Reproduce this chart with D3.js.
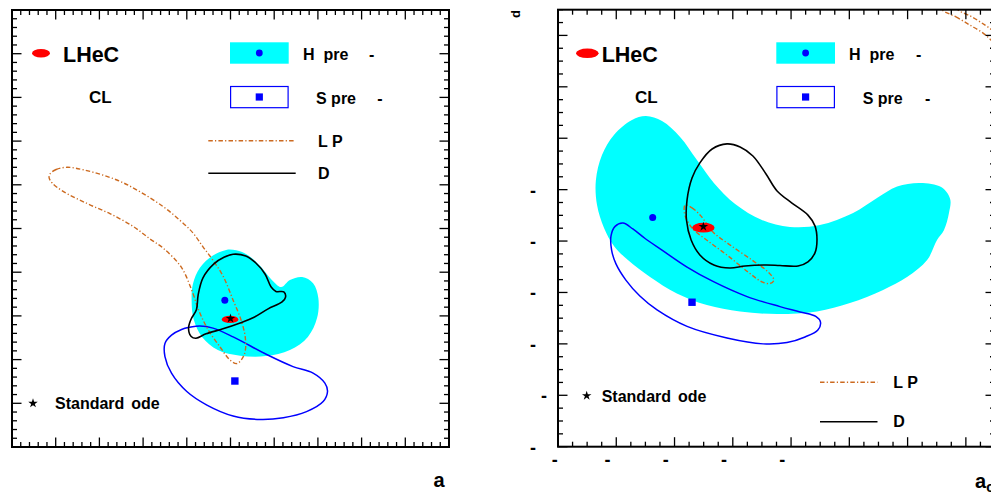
<!DOCTYPE html>
<html><head><meta charset="utf-8">
<script src="https://cdn.jsdelivr.net/npm/d3@7"></script>
<style>
body{margin:0;background:#fff}
text{font-family:"Liberation Sans",Arial,Helvetica,sans-serif;font-weight:bold;fill:#000}
</style>
</head><body>
<svg id="c" width="991" height="495"></svg>
<script>
// ---------------- DATA (axis units) ----------------
// Left panel
const leftHiggsRegion = [[0.490,0.451],[0.458,0.437],[0.430,0.410],[0.414,0.373],[0.411,0.336],[0.416,0.291],[0.435,0.252],[0.471,0.222],[0.522,0.209],[0.581,0.208],[0.636,0.222],[0.677,0.252],[0.698,0.295],[0.701,0.341],[0.689,0.375],[0.664,0.389],[0.636,0.382],[0.616,0.366],[0.593,0.384],[0.568,0.414],[0.540,0.439],[0.513,0.450]];
const leftSContour = [[0.407,0.274],[0.430,0.277],[0.460,0.272],[0.506,0.252],[0.584,0.211],[0.643,0.184],[0.689,0.169],[0.716,0.146],[0.722,0.127],[0.712,0.104],[0.674,0.081],[0.621,0.067],[0.568,0.063],[0.506,0.071],[0.446,0.096],[0.400,0.127],[0.365,0.169],[0.350,0.207],[0.350,0.237],[0.365,0.256],[0.388,0.269]];
const leftLPContour = [[0.087,0.625],[0.101,0.635],[0.126,0.640],[0.165,0.634],[0.240,0.611],[0.293,0.584],[0.346,0.550],[0.384,0.519],[0.414,0.490],[0.437,0.458],[0.458,0.430],[0.483,0.391],[0.506,0.336],[0.524,0.291],[0.534,0.249],[0.532,0.213],[0.515,0.191],[0.499,0.199],[0.476,0.229],[0.449,0.268],[0.428,0.311],[0.412,0.357],[0.387,0.412],[0.346,0.455],[0.316,0.476],[0.277,0.505],[0.224,0.534],[0.172,0.557],[0.117,0.585],[0.092,0.604],[0.085,0.616]];
const leftDContour = [[0.506,0.441],[0.535,0.437],[0.558,0.421],[0.579,0.396],[0.593,0.366],[0.604,0.356],[0.622,0.355],[0.626,0.343],[0.618,0.332],[0.586,0.316],[0.554,0.297],[0.522,0.284],[0.481,0.270],[0.444,0.259],[0.421,0.249],[0.410,0.253],[0.404,0.272],[0.410,0.293],[0.422,0.314],[0.426,0.348],[0.437,0.387],[0.462,0.419],[0.485,0.434]];
const leftLHeC = [0.499, 0.292, 0.019, 0.0085];   // centre x, centre y, half-width, half-height
const leftSM = [0.500, 0.294];
const leftHiggsBest = [0.487, 0.336];
const leftSBest = [0.510, 0.151];

// Right panel
const rightHiggsRegion = [[-0.698,0.086],[-0.746,0.071],[-0.808,0.013],[-0.849,-0.065],[-0.870,-0.163],[-0.866,-0.260],[-0.842,-0.349],[-0.808,-0.419],[-0.760,-0.474],[-0.684,-0.540],[-0.592,-0.604],[-0.489,-0.649],[-0.375,-0.674],[-0.248,-0.684],[-0.111,-0.674],[0.002,-0.641],[0.116,-0.590],[0.198,-0.540],[0.267,-0.474],[0.301,-0.396],[0.325,-0.357],[0.342,-0.291],[0.346,-0.236],[0.315,-0.190],[0.243,-0.174],[0.164,-0.188],[0.095,-0.233],[0.013,-0.291],[-0.101,-0.338],[-0.204,-0.345],[-0.300,-0.318],[-0.392,-0.256],[-0.465,-0.174],[-0.523,-0.085],[-0.581,0.005],[-0.643,0.067]];
const rightSContour = [[-0.777,-0.330],[-0.804,-0.343],[-0.818,-0.380],[-0.816,-0.435],[-0.801,-0.489],[-0.767,-0.552],[-0.719,-0.614],[-0.660,-0.668],[-0.557,-0.732],[-0.420,-0.777],[-0.296,-0.800],[-0.214,-0.795],[-0.152,-0.773],[-0.108,-0.746],[-0.099,-0.715],[-0.114,-0.694],[-0.169,-0.676],[-0.238,-0.655],[-0.351,-0.616],[-0.468,-0.557],[-0.557,-0.501],[-0.643,-0.435],[-0.701,-0.390],[-0.743,-0.353]];
const rightLPContour = [[-0.564,-0.260],[-0.540,-0.271],[-0.509,-0.303],[-0.468,-0.365],[-0.410,-0.415],[-0.334,-0.474],[-0.279,-0.520],[-0.259,-0.552],[-0.272,-0.565],[-0.300,-0.559],[-0.348,-0.520],[-0.416,-0.458],[-0.485,-0.400],[-0.537,-0.353],[-0.561,-0.310],[-0.567,-0.279]];
const rightLPOuter = [[0.318,0.499],[0.366,0.472],[0.414,0.440],[0.459,0.409],[0.486,0.382],[0.517,0.343],[0.560,0.300],[0.560,0.350],[0.534,0.382],[0.500,0.413],[0.466,0.440],[0.421,0.472],[0.373,0.499],[0.350,0.530],[0.300,0.530]];
const rightDContour = [[-0.420,-0.022],[-0.375,-0.034],[-0.331,-0.069],[-0.286,-0.139],[-0.248,-0.205],[-0.197,-0.252],[-0.142,-0.299],[-0.118,-0.341],[-0.111,-0.396],[-0.118,-0.446],[-0.142,-0.481],[-0.176,-0.497],[-0.238,-0.495],[-0.286,-0.493],[-0.358,-0.497],[-0.410,-0.505],[-0.465,-0.493],[-0.513,-0.454],[-0.543,-0.396],[-0.559,-0.318],[-0.557,-0.240],[-0.540,-0.155],[-0.513,-0.096],[-0.471,-0.042]];
const rightLHeC = [-0.501, -0.348, 0.0384, 0.019];
const rightSM = [-0.501, -0.344];
const rightHiggsBest = [-0.675, -0.308];
const rightSBest = [-0.540, -0.638];

// Right panel tick labels (only the minus signs remain visible)
const rightXLabelValues = [-1, -0.8, -0.6, -0.4, -0.2];
const rightYLabelValues = [-0.2, -0.4, -0.6, -0.8, -1, -1.2];

// Legend texts
const legendTexts = {lhec:"LHeC", cl:"CL", higgs:"H  pre", scenario:"S pre", dash:"-", lp:"L P", d:"D", sm:"Standard ode"};

// ---------------- DRAWING ----------------
const svg = d3.select("#c");
const ORANGE = "#cc6a20", CYAN = "#00ffff", BLUE = "#0000ff";
const LPDASH = "4.5,2.2,1.2,2.2";

const panels = [
  {id:"L", x0:12, y0:10, w:437, h:437, xd:[0,1], yd:[0,1], xMinor:0.02, xMajor:0.1, yMinor:0.02, yMajor:0.1,
   higgs:leftHiggsRegion, s:leftSContour, lp:[leftLPContour], d:leftDContour, lhec:leftLHeC, sm:leftSM, hb:leftHiggsBest, sb:leftSBest, labels:false},
  {id:"R", x0:558, y0:9.7, w:437, h:437, xd:[-1,0.5], yd:[-1.2,0.5], xMinor:0.05, xMajor:0.2, yMinor:0.05, yMajor:0.2,
   higgs:rightHiggsRegion, s:rightSContour, lp:[rightLPContour, rightLPOuter], d:rightDContour, lhec:rightLHeC, sm:rightSM, hb:rightHiggsBest, sb:rightSBest, labels:true}
];

function tickVals(d0, d1, step){
  const n = Math.round((d1-d0)/step);
  return d3.range(n+1).map(i => +(d0 + i*step).toFixed(6));
}
const isMajor = (v, m) => Math.abs(v/m - Math.round(v/m)) < 1e-6;
const starSym = d3.symbol().type(d3.symbolStar).size(28);

const meas = svg.append("text").attr("font-size", 13).attr("x", -100).attr("y", -100);
function textW(s){ meas.text(s); return meas.node().getComputedTextLength(); }

panels.forEach(p => {
  const x = d3.scaleLinear().domain(p.xd).range([p.x0, p.x0 + p.w]);
  const y = d3.scaleLinear().domain(p.yd).range([p.y0 + p.h, p.y0]);
  const clipId = "clip" + p.id;
  svg.append("clipPath").attr("id", clipId).append("rect")
    .attr("x", p.x0).attr("y", p.y0).attr("width", p.w).attr("height", p.h);
  const g = svg.append("g").attr("clip-path", `url(#${clipId})`);
  const line = d3.line().x(d => x(d[0])).y(d => y(d[1])).curve(d3.curveCatmullRomClosed.alpha(0.5));

  g.append("path").attr("d", line(p.higgs)).attr("fill", CYAN).attr("stroke", "none");
  g.append("path").attr("d", line(p.s)).attr("fill", "none").attr("stroke", BLUE).attr("stroke-width", 1.5);
  p.lp.forEach(c => g.append("path").attr("d", line(c)).attr("fill", "none").attr("stroke", ORANGE)
      .attr("stroke-width", 1.4).attr("stroke-dasharray", LPDASH));
  g.append("path").attr("d", line(p.d)).attr("fill", "none").attr("stroke", "#000").attr("stroke-width", 1.6);

  // markers
  g.append("circle").attr("cx", x(p.hb[0])).attr("cy", y(p.hb[1])).attr("r", 3.5).attr("fill", BLUE);
  g.append("rect").attr("x", x(p.sb[0]) - 3.7).attr("y", y(p.sb[1]) - 3.7).attr("width", 7.4).attr("height", 7.4).attr("fill", BLUE);
  g.append("ellipse").attr("cx", x(p.lhec[0])).attr("cy", y(p.lhec[1]))
    .attr("rx", x(p.lhec[0] + p.lhec[2]) - x(p.lhec[0]))
    .attr("ry", y(p.lhec[1]) - y(p.lhec[1] + p.lhec[3])).attr("fill", "#ff0000");
  g.append("path").attr("d", starSym()).attr("transform", `translate(${x(p.sm[0])},${y(p.sm[1])})`).attr("fill", "#000");

  // frame + ticks
  const ax = svg.append("g").attr("stroke", "#000").attr("fill", "none");
  const xt = tickVals(p.xd[0], p.xd[1], p.xMinor);
  const yt = tickVals(p.yd[0], p.yd[1], p.yMinor);
  const B = p.y0 + p.h, T = p.y0, Lx = p.x0, Rx = p.x0 + p.w;
  xt.forEach(v => {
    const len = isMajor(v, p.xMajor) ? 9.5 : 5;
    ax.append("line").attr("x1", x(v)).attr("x2", x(v)).attr("y1", B).attr("y2", B - len).attr("stroke-width", 1.3);
    ax.append("line").attr("x1", x(v)).attr("x2", x(v)).attr("y1", T).attr("y2", T + len).attr("stroke-width", 1.3);
  });
  yt.forEach(v => {
    const len = isMajor(v, p.yMajor) ? 9.5 : 5;
    ax.append("line").attr("y1", y(v)).attr("y2", y(v)).attr("x1", Lx).attr("x2", Lx + len).attr("stroke-width", 1.3);
    ax.append("line").attr("y1", y(v)).attr("y2", y(v)).attr("x1", Rx).attr("x2", Rx - len).attr("stroke-width", 1.3);
  });
  ax.append("rect").attr("x", Lx).attr("y", T).attr("width", p.w).attr("height", p.h).attr("stroke-width", 2);

  if (p.labels) {
    rightXLabelValues.forEach(v => {
      const w = textW(String(v));
      svg.append("text").attr("x", x(v) - w/2 - 0.5).attr("y", B + 19).attr("font-size", 18).text("-");
    });
    rightYLabelValues.forEach(v => {
      const w = textW(String(v));
      svg.append("text").attr("x", Lx - 5.5 - w).attr("y", y(v) + 7).attr("font-size", 18).text("-");
    });
  }
});
meas.remove();

// ---------------- LEGENDS ----------------
function legend(o){
  svg.append("ellipse").attr("cx", o.ex).attr("cy", 53.3).attr("rx", o.erx).attr("ry", o.ery).attr("fill", "#ff0000");
  svg.append("text").attr("x", o.lhecX).attr("y", 61.5).attr("font-size", 21.5).text(legendTexts.lhec);
  svg.append("text").attr("x", o.clX).attr("y", 103.3).attr("font-size", 17).text(legendTexts.cl);
  svg.append("rect").attr("x", o.boxX).attr("y", 42.3).attr("width", 58.7).attr("height", 21.4).attr("fill", CYAN);
  svg.append("circle").attr("cx", o.boxX + 29.3).attr("cy", 53).attr("r", 3.4).attr("fill", BLUE);
  svg.append("text").attr("x", o.hX).attr("y", 59.5).attr("font-size", 16).style("white-space", "pre").text(legendTexts.higgs);
  svg.append("text").attr("x", o.hDash).attr("y", 59.5).attr("font-size", 16).attr("text-anchor", "middle").text(legendTexts.dash);
  svg.append("rect").attr("x", o.boxX + 0.6).attr("y", 86.5).attr("width", 57.5).attr("height", 21.2).attr("fill", "none").attr("stroke", BLUE).attr("stroke-width", 1.2);
  svg.append("rect").attr("x", o.boxX + 29.3 - 3.6).attr("y", 97 - 3.6).attr("width", 7.2).attr("height", 7.2).attr("fill", BLUE);
  svg.append("text").attr("x", o.sX).attr("y", 103.5).attr("font-size", 16).text(legendTexts.scenario);
  svg.append("text").attr("x", o.sDash).attr("y", 103.5).attr("font-size", 16).attr("text-anchor", "middle").text(legendTexts.dash);
  svg.append("line").attr("x1", o.lineX1).attr("x2", o.lineX2).attr("y1", o.lpY).attr("y2", o.lpY)
    .attr("stroke", ORANGE).attr("stroke-width", 1.4).attr("stroke-dasharray", LPDASH);
  svg.append("text").attr("x", o.lpTX).attr("y", o.lpY + 6).attr("font-size", 16).text(legendTexts.lp);
  svg.append("line").attr("x1", o.lineX1).attr("x2", o.lineX2).attr("y1", o.dY).attr("y2", o.dY)
    .attr("stroke", "#000").attr("stroke-width", 1.6);
  svg.append("text").attr("x", o.lpTX).attr("y", o.dY + 5.7).attr("font-size", 16).text(legendTexts.d);
  svg.append("path").attr("d", starSym()).attr("transform", `translate(${o.starX},${o.smY})`).attr("fill", "#000");
  svg.append("text").attr("x", o.smX).attr("y", o.smY + 6).attr("font-size", 16).attr("word-spacing", 2.5).text(legendTexts.sm);
}
legend({ex:41, erx:9, ery:4.2, lhecX:63, clX:89, boxX:230, hX:303, hDash:371.7, sX:316, sDash:380,
        lineX1:208.3, lineX2:295.7, lpY:140.7, dY:173.3, lpTX:318, starX:33, smY:403.3, smX:55});
legend({ex:587.3, erx:11.3, ery:4.8, lhecX:601.7, clX:635, boxX:776.3, hX:849, hDash:918.7, sX:862.7, sDash:927.7,
        lineX1:820, lineX2:877.5, lpY:382.3, dY:421.7, lpTX:893.3, starX:586.7, smY:395.7, smX:601.7});

// axis titles
svg.append("text").attr("x", 439).attr("y", 487).attr("font-size", 20).attr("text-anchor", "middle").text("a");
const at = svg.append("text").attr("x", 975).attr("y", 488).attr("font-size", 20);
at.append("tspan").text("a");
at.append("tspan").attr("font-size", 14).attr("dy", 4).text("c");
svg.append("text").attr("transform", "translate(520,10) rotate(-90)").attr("text-anchor", "end").attr("font-size", 13).text("d");
</script>
</body></html>
